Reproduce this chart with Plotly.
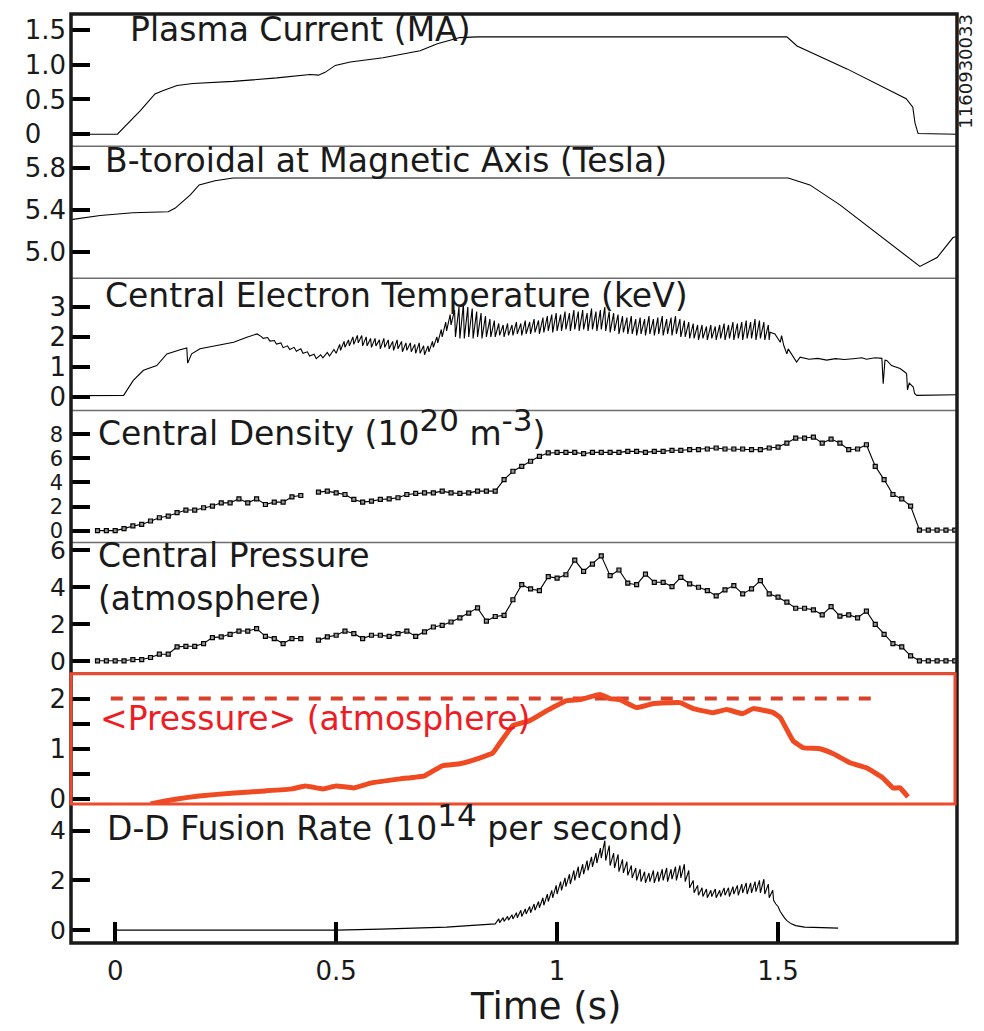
import plotly.graph_objects as go

FONT = "DejaVu Sans"

# ---------------- data ----------------
# Plasma current (MA)
ip_t = [-0.10, 0.005, 0.057, 0.090, 0.109, 0.140, 0.176, 0.267, 0.366, 0.441, 0.460, 0.475, 0.498,
        0.532, 0.606, 0.690, 0.729, 0.780, 0.820, 1.000, 1.200, 1.400, 1.520, 1.543, 1.656, 1.790,
        1.805, 1.810, 1.817, 1.905]
ip_v = [0.00, 0.00, 0.34, 0.58, 0.63, 0.70, 0.73, 0.76, 0.81, 0.86, 0.85, 0.89, 0.99,
        1.04, 1.10, 1.20, 1.30, 1.39, 1.40, 1.40, 1.40, 1.40, 1.40, 1.27, 0.94, 0.51,
        0.39, 0.16, 0.01, 0.00]

# B-toroidal at magnetic axis (T)
bt_t = [-0.10, -0.034, 0.040, 0.120, 0.136, 0.170, 0.190, 0.226, 0.267, 0.500, 1.000, 1.523,
        1.572, 1.640, 1.821, 1.860, 1.896, 1.905]
bt_v = [5.31, 5.35, 5.375, 5.385, 5.42, 5.545, 5.64, 5.68, 5.706, 5.706, 5.706, 5.706,
        5.64, 5.45, 4.866, 4.95, 5.14, 5.15]

# Central electron temperature (keV): start, sawtooth teeth, end
te_t = [-0.10, 0.019, 0.041, 0.064, 0.094, 0.117, 0.147, 0.162, 0.164, 0.173, 0.192, 0.230,
        0.268, 0.298, 0.321, 0.330, 0.335, 0.345, 0.350, 0.360, 0.365, 0.375, 0.380, 0.390,
        0.395, 0.405, 0.410, 0.420, 0.425, 0.435, 0.440, 0.450, 0.455, 0.465, 0.470, 0.480,
        0.485, 0.495]
te_v = [0.03, 0.04, 0.54, 0.88, 1.04, 1.43, 1.57, 1.63, 1.12, 1.43, 1.60, 1.71,
        1.82, 1.99, 2.10, 2.02, 1.95, 1.98, 1.86, 1.88, 1.76, 1.80, 1.64, 1.70,
        1.58, 1.65, 1.52, 1.60, 1.45, 1.50, 1.36, 1.42, 1.27, 1.40, 1.30, 1.48,
        1.36, 1.58]
te_tooth_t = [0.50, 0.51, 0.52, 0.53, 0.54, 0.55, 0.56, 0.57, 0.58, 0.59,
              0.60, 0.61, 0.62, 0.63, 0.64, 0.65, 0.66, 0.67, 0.68, 0.69,
              0.70, 0.71, 0.72, 0.73, 0.74, 0.75,
              0.76, 0.77, 0.78, 0.79, 0.80, 0.81, 0.82, 0.83, 0.84, 0.85,
              0.86, 0.87, 0.88, 0.89, 0.90, 0.91, 0.92, 0.93, 0.94, 0.95,
              0.96, 0.97, 0.98, 0.99, 1.00, 1.01, 1.02, 1.03, 1.04, 1.05,
              1.06, 1.07, 1.08, 1.09, 1.10, 1.11, 1.12, 1.13, 1.14, 1.15,
              1.16, 1.17, 1.18, 1.19, 1.20, 1.21, 1.22, 1.23, 1.24, 1.25,
              1.26, 1.27, 1.28, 1.29, 1.30, 1.31, 1.32, 1.33, 1.34, 1.35,
              1.36, 1.37, 1.38, 1.39, 1.40, 1.41, 1.42, 1.43, 1.44, 1.45,
              1.46, 1.47]
te_tooth_lo = [1.45, 1.55, 1.65, 1.70, 1.75, 1.80, 1.70, 1.70, 1.65, 1.70,
               1.60, 1.65, 1.60, 1.55, 1.60, 1.50, 1.55, 1.50, 1.45, 1.45,
               1.40, 1.50, 1.65, 1.80, 2.00, 2.20,
               2.40, 2.00, 1.95, 1.95, 2.00, 1.95, 2.00, 1.95, 2.00, 2.00,
               2.00, 2.05, 2.00, 2.05, 2.05, 2.10, 2.05, 2.10, 2.10, 2.15,
               2.10, 2.15, 2.20, 2.15, 2.20, 2.20, 2.25, 2.20, 2.25, 2.20,
               2.25, 2.20, 2.25, 2.20, 2.25, 2.20, 2.15, 2.20, 2.10, 2.15,
               2.10, 2.10, 2.05, 2.10, 2.05, 2.10, 2.05, 2.10, 2.05, 2.10,
               2.05, 2.10, 2.00, 2.00, 1.95, 1.95, 1.90, 1.95, 1.90, 1.95,
               1.90, 1.95, 1.90, 1.95, 1.90, 1.95, 1.90, 1.95, 1.95, 1.90,
               1.95, 1.90]
te_tooth_hi = [1.75, 1.85, 1.90, 2.00, 2.05, 2.05, 2.00, 1.95, 1.95, 1.90,
               1.95, 1.90, 1.85, 1.90, 1.85, 1.80, 1.80, 1.75, 1.80, 1.70,
               1.70, 1.85, 2.00, 2.25, 2.50, 2.75,
               2.90, 3.00, 3.10, 3.00, 2.95, 2.85, 2.80, 2.70, 2.60, 2.55,
               2.45, 2.40, 2.45, 2.40, 2.50, 2.45, 2.55, 2.50, 2.60, 2.55,
               2.65, 2.70, 2.75, 2.80, 2.75, 2.85, 2.80, 2.90, 2.85, 2.90,
               2.80, 2.95, 2.85, 2.90, 3.00, 2.85, 2.80, 2.75, 2.70, 2.65,
               2.70, 2.60, 2.65, 2.60, 2.70, 2.60, 2.65, 2.70, 2.60, 2.65,
               2.70, 2.60, 2.55, 2.50, 2.45, 2.40, 2.40, 2.35, 2.40, 2.35,
               2.40, 2.45, 2.40, 2.50, 2.45, 2.50, 2.55, 2.50, 2.60, 2.55,
               2.50, 2.40]
te_end_t = [1.480, 1.482, 1.493, 1.505, 1.508, 1.513, 1.520, 1.523, 1.535, 1.542, 1.550,
            1.570, 1.590, 1.610, 1.630, 1.650, 1.670, 1.690, 1.700, 1.720, 1.735, 1.738,
            1.742, 1.746, 1.757, 1.768, 1.776, 1.789, 1.791, 1.793, 1.797, 1.806, 1.809,
            1.814, 1.850, 1.880, 1.905]
te_end_v = [1.90, 2.16, 2.10, 1.82, 2.04, 1.71, 1.43, 1.60, 1.32, 1.16, 1.32,
            1.25, 1.28, 1.22, 1.27, 1.24, 1.27, 1.30, 1.25, 1.30, 1.28, 0.43,
            1.22, 1.21, 1.04, 0.99, 0.94, 0.80, 0.76, 0.22, 0.45, 0.32, 0.10,
            0.04, 0.05, 0.04, 0.06]

# Central density (1e20 m^-3) and central pressure (atm), sampled every 20 ms
prof_t = [-0.04, -0.02, 0.00, 0.02, 0.04, 0.06, 0.08, 0.10, 0.12, 0.14,
          0.16, 0.18, 0.20, 0.22, 0.24, 0.26, 0.28, 0.30, 0.32, 0.34,
          0.36, 0.38, 0.40, 0.42, 0.44, 0.46, 0.48, 0.50, 0.52, 0.54,
          0.56, 0.58, 0.60, 0.62, 0.64, 0.66, 0.68, 0.70, 0.72, 0.74,
          0.76, 0.78, 0.80, 0.82, 0.84, 0.86, 0.88, 0.90, 0.92, 0.94,
          0.96, 0.98, 1.00, 1.02, 1.04, 1.06, 1.08, 1.10, 1.12, 1.14,
          1.16, 1.18, 1.20, 1.22, 1.24, 1.26, 1.28, 1.30, 1.32, 1.34,
          1.36, 1.38, 1.40, 1.42, 1.44, 1.46, 1.48, 1.50, 1.52, 1.54,
          1.56, 1.58, 1.60, 1.62, 1.64, 1.66, 1.68, 1.70, 1.72, 1.74,
          1.76, 1.78, 1.80, 1.82, 1.84, 1.86, 1.88, 1.90]
ne_v = [0.00, 0.00, 0.00, 0.17, 0.39, 0.52, 0.80, 1.07, 1.21, 1.49,
        1.71, 1.71, 1.90, 2.04, 2.31, 2.31, 2.64, 2.31, 2.64, 2.17,
        2.37, 2.37, 2.81, 2.92, None, 3.20, 3.28, 3.14, 3.00, 2.59,
        2.37, 2.45, 2.59, 2.64, 2.73, 3.00, 3.09, 3.14, 3.14, 3.28,
        3.14, 3.09, 3.14, 3.28, 3.28, 3.28, 4.24, 4.93, 5.34, 5.76,
        6.17, 6.45, 6.50, 6.50, 6.50, 6.39, 6.50, 6.50, 6.50, 6.50,
        6.58, 6.58, 6.50, 6.58, 6.58, 6.67, 6.67, 6.72, 6.72, 6.78,
        6.86, 6.78, 6.78, 6.78, 6.72, 6.72, 6.86, 6.94, 7.27, 7.69,
        7.69, 7.77, 7.27, 7.60, 7.27, 6.72, 6.78, 7.13, 5.34, 4.24,
        3.00, 2.64, 2.04, 0.05, 0.05, 0.05, 0.05, 0.05]
p0_v = [0.00, 0.00, 0.00, 0.00, 0.07, 0.07, 0.18, 0.36, 0.36, 0.76,
        0.79, 0.79, 0.94, 1.26, 1.30, 1.44, 1.62, 1.62, 1.75, 1.33,
        1.21, 0.94, 1.21, 1.21, None, 1.12, 1.30, 1.39, 1.62, 1.48,
        1.21, 1.39, 1.39, 1.33, 1.48, 1.62, 1.33, 1.57, 1.84, 1.93,
        2.11, 2.34, 2.59, 2.88, 2.16, 2.41, 2.47, 3.32, 4.14, 3.91,
        3.82, 4.58, 4.50, 4.68, 5.48, 4.86, 5.26, 5.71, 4.63, 4.94,
        4.22, 4.14, 4.72, 4.27, 4.27, 4.04, 4.54, 4.18, 4.00, 3.82,
        3.53, 3.86, 4.09, 3.64, 3.91, 4.36, 3.64, 3.46, 3.19, 2.86,
        2.86, 2.77, 2.50, 2.95, 2.43, 2.50, 2.34, 2.70, 1.98, 1.44,
        0.94, 0.76, 0.27, 0.00, 0.00, 0.00, 0.00, 0.00]

# Volume-averaged pressure (atm) and the 2-atm reference level
pavg_t = [0.080, 0.113, 0.140, 0.190, 0.270, 0.340, 0.400, 0.430, 0.470, 0.500, 0.540, 0.580,
          0.645, 0.700, 0.740, 0.780, 0.826, 0.855, 0.871, 0.900, 0.938, 0.977, 1.022, 1.052,
          1.097, 1.120, 1.142, 1.180, 1.218, 1.278, 1.308, 1.353, 1.384, 1.420, 1.444, 1.489,
          1.505, 1.534, 1.557, 1.595, 1.625, 1.663, 1.700, 1.737, 1.760, 1.776, 1.794]
pavg_v = [-0.10, -0.04, 0.00, 0.06, 0.12, 0.16, 0.20, 0.26, 0.20, 0.26, 0.22, 0.32,
          0.40, 0.46, 0.66, 0.70, 0.82, 0.92, 1.12, 1.46, 1.56, 1.76, 1.96, 1.98,
          2.08, 2.00, 1.98, 1.82, 1.90, 1.92, 1.80, 1.72, 1.78, 1.70, 1.80, 1.72,
          1.62, 1.16, 1.02, 1.00, 0.90, 0.72, 0.62, 0.42, 0.22, 0.22, 0.04]
pref_t = [-0.01, 1.72]
pref_v = [2.0, 2.0]

# D-D fusion rate (1e14 /s): start, sawtooth teeth, end
fus_t = [0.00, 0.50, 0.60, 0.70, 0.75, 0.80, 0.85]
fus_v = [0.00, 0.00, 0.04, 0.08, 0.12, 0.18, 0.25]
fus_tooth_t = [0.86, 0.87, 0.88, 0.89, 0.90, 0.91, 0.92, 0.93, 0.94, 0.95,
               0.96, 0.97, 0.98, 0.99, 1.00, 1.01, 1.02, 1.03, 1.04, 1.05,
               1.06, 1.07, 1.08, 1.09, 1.10, 1.11, 1.12, 1.13, 1.14, 1.15,
               1.16, 1.17, 1.18, 1.19, 1.20, 1.21, 1.22, 1.23, 1.24, 1.25,
               1.26, 1.27, 1.28, 1.29, 1.30, 1.31, 1.32, 1.33, 1.34, 1.35,
               1.36, 1.37, 1.38, 1.39, 1.40, 1.41, 1.42, 1.43, 1.44, 1.45,
               1.46, 1.47]
fus_tooth_lo = [0.25, 0.30, 0.35, 0.40, 0.45, 0.50, 0.55, 0.65, 0.70, 0.80,
                0.90, 1.00, 1.15, 1.30, 1.45, 1.60, 1.75, 1.85, 2.00, 2.10,
                2.25, 2.40, 2.55, 2.70, 2.90, 2.80, 2.60, 2.50, 2.35, 2.30,
                2.20, 2.10, 2.00, 1.95, 1.90, 1.95, 1.90, 1.95, 2.00, 1.95,
                2.05, 2.00, 2.10, 1.95, 1.70, 1.50, 1.40, 1.35, 1.30, 1.35,
                1.30, 1.35, 1.40, 1.35, 1.45, 1.40, 1.50, 1.45, 1.50, 1.55,
                1.50, 1.45]
fus_tooth_hi = [0.45, 0.50, 0.55, 0.62, 0.70, 0.80, 0.85, 0.95, 1.05, 1.15,
                1.30, 1.45, 1.60, 1.80, 1.95, 2.10, 2.25, 2.40, 2.55, 2.65,
                2.80, 2.95, 3.10, 3.30, 3.60, 3.40, 3.10, 3.05, 2.85, 2.75,
                2.60, 2.50, 2.45, 2.35, 2.30, 2.40, 2.35, 2.45, 2.50, 2.45,
                2.55, 2.60, 2.65, 2.40, 2.00, 1.80, 1.70, 1.65, 1.60, 1.65,
                1.60, 1.70, 1.70, 1.75, 1.80, 1.85, 1.90, 1.90, 1.95, 2.00,
                2.05, 1.85]
fus_end_t = [1.480, 1.488, 1.490, 1.495, 1.500, 1.505, 1.510, 1.515, 1.520, 1.530, 1.540,
             1.560, 1.600, 1.636]
fus_end_v = [1.30, 1.60, 1.20, 1.05, 0.95, 0.75, 0.60, 0.48, 0.38, 0.25, 0.18,
             0.12, 0.10, 0.08]

x_tickvals = [0, 0.5, 1, 1.5]
x_ticktext = ["0", "0.5", "1", "1.5"]

# ---------------- build series ----------------
def with_teeth(t0, v0, tt, lo, hi, t1, v1, ramp=0.008):
    xs, ys = list(t0), list(v0)
    for t, a, b in zip(tt, lo, hi):
        xs += [t, t + ramp]
        ys += [a, b]
    return xs + list(t1), ys + list(v1)

te_x, te_y = with_teeth(te_t, te_v, te_tooth_t, te_tooth_lo, te_tooth_hi, te_end_t, te_end_v)
fu_x, fu_y = with_teeth(fus_t, fus_v, fus_tooth_t, fus_tooth_lo, fus_tooth_hi, fus_end_t, fus_end_v)

# ---------------- geometry ----------------
W, H = 984, 1031
L, R, T, B = 71, 957, 8, 943


def px(xp):
    return (xp - L) / (R - L)


def py(yp):
    return (B - yp) / (B - T)


bounds = [8, 141, 274, 407, 540, 672, 803, 943]
yranges = [[-0.171, 1.729], [4.753, 6.008], [-0.467, 3.967], [-0.99, 9.98],
           [-0.703, 6.43], [-0.099, 2.495], [-0.52, 5.08]]
ytickvals = [[0, 0.5, 1.0, 1.5], [5.0, 5.4, 5.8], [0, 1, 2, 3], [0, 2, 4, 6, 8],
             [0, 2, 4, 6], [0, 1, 2], [0, 2, 4]]
yticktext = [["0\u2008\u2007", "0.5", "1.0", "1.5"], ["5.0", "5.4", "5.8"],
             ["0", "1", "2", "3"], ["0", "2", "4", "6", "8"], ["0", "2", "4", "6"],
             ["0", "1", "2"], ["0", "2", "4"]]
ytickfont = [26, 26, 26, 21, 25, 26, 25]

fig = go.Figure()
blk = dict(color="black", width=1.1)

fig.add_trace(go.Scatter(x=ip_t, y=ip_v, mode="lines", line=blk, xaxis="x", yaxis="y"))
fig.add_trace(go.Scatter(x=bt_t, y=bt_v, mode="lines", line=blk, xaxis="x2", yaxis="y2"))
fig.add_trace(go.Scatter(x=te_x, y=te_y, mode="lines", line=blk, xaxis="x3", yaxis="y3"))
mk = dict(symbol="square", size=4, color="#9a9a9a", line=dict(color="black", width=1.2))
fig.add_trace(go.Scatter(x=prof_t, y=ne_v, mode="lines+markers", line=blk, marker=mk,
                         connectgaps=False, xaxis="x4", yaxis="y4"))
fig.add_trace(go.Scatter(x=prof_t, y=p0_v, mode="lines+markers", line=blk, marker=mk,
                         connectgaps=False, xaxis="x5", yaxis="y5"))
fig.add_trace(go.Scatter(x=pref_t, y=pref_v, mode="lines",
                         line=dict(color="#d8402a", width=4, dash="12px,10px"),
                         xaxis="x6", yaxis="y6"))
fig.add_trace(go.Scatter(x=pavg_t, y=pavg_v, mode="lines",
                         line=dict(color="#f04a23", width=5, shape="spline", smoothing=0.3),
                         xaxis="x6", yaxis="y6"))
fig.add_trace(go.Scatter(x=fu_x, y=fu_y, mode="lines", line=blk, xaxis="x7", yaxis="y7"))

layout = dict(
    width=W, height=H,
    margin=dict(l=L, r=W - R, t=T, b=H - B),
    paper_bgcolor="white", plot_bgcolor="white",
    showlegend=False,
    font=dict(family=FONT, color="#1a1a1a"),
)

for i in range(7):
    sfx = "" if i == 0 else str(i + 1)
    bottom = (i == 6)
    layout["xaxis" + sfx] = dict(
        domain=[0, 1], anchor="y" + sfx, range=[-0.1, 1.905],
        showgrid=False, zeroline=False, showline=False,
        ticks="inside" if bottom else "", ticklen=21, tickwidth=4, tickcolor="black",
        tickvals=x_tickvals, ticktext=x_ticktext,
        showticklabels=bottom, tickfont=dict(size=26, family=FONT, color="#1a1a1a"),
        ticklabelstandoff=10,
    )
    layout["yaxis" + sfx] = dict(
        domain=[py(bounds[i + 1]), py(bounds[i])], anchor="x" + sfx, range=yranges[i],
        showgrid=False, zeroline=False, showline=False,
        ticks="inside", ticklen=19, tickwidth=4, tickcolor="black",
        tickvals=ytickvals[i], ticktext=yticktext[i],
        tickfont=dict(size=ytickfont[i], family=FONT, color="#1a1a1a"),
        ticklabelstandoff=4 if ytickfont[i] > 22 else 7,
    )
# unlabelled half-atmosphere ticks in the <Pressure> panel
layout["yaxis6"]["minor"] = dict(tickmode="array", tickvals=[0.5, 1.5], ticks="inside",
                                 ticklen=19, tickwidth=4, tickcolor="black", showgrid=False)

shapes = []
for yp in [141, 274, 407, 540, 671]:
    shapes.append(dict(type="line", xref="paper", yref="paper", x0=0, x1=1, y0=py(yp), y1=py(yp),
                       line=dict(color="#6e6e6e", width=1.5)))
shapes.append(dict(type="rect", xref="paper", yref="paper", x0=0, x1=1, y0=0, y1=1,
                   line=dict(color="#1a1a1a", width=3.5)))
shapes.append(dict(type="rect", xref="paper", yref="paper", x0=0, x1=px(955), y0=py(803), y1=py(672),
                   line=dict(color="#ee4a2f", width=3)))
layout["shapes"] = shapes


def ann(text, xl, yc, size=33, color="#1a1a1a", **kw):
    d = dict(text=text, x=px(xl), y=py(yc), xref="paper", yref="paper", xanchor="left",
             yanchor="middle", showarrow=False, align="left",
             font=dict(size=size, family=FONT, color=color))
    d.update(kw)
    return d


sup = "<sup><span style='font-size:31px'>%s</span></sup>"
layout["annotations"] = [
    ann("Plasma Current (MA)", 128, 24),
    ann("B-toroidal at Magnetic Axis (Tesla)", 103, 155),
    ann("Central Electron Temperature (keV)", 103, 291),
    ann("Central Density (10" + sup % "20" + " m" + sup % "-3" + ")", 96, 424),
    ann("Central Pressure<br>(atmosphere)", 96, 575),
    ann("&lt;Pressure&gt; (atmosphere)", 98, 717, color="#ee1c24"),
    ann("D-D Fusion Rate (10" + sup % "14" + " per second)", 105, 822),
    dict(text="Time (s)", x=px(545), y=py(1007), xref="paper", yref="paper",
         xanchor="center", yanchor="middle", showarrow=False,
         font=dict(size=37, family=FONT, color="#1a1a1a")),
    dict(text="1160930033", x=px(966), y=py(66), xref="paper", yref="paper",
         xanchor="center", yanchor="middle", showarrow=False, textangle=-90,
         font=dict(size=18, family=FONT, color="#1a1a1a")),
]

fig.update_layout(**layout)
fig.write_html("out.html", config={"displayModeBar": False},
               post_script="document.body.style.margin='0px'; document.body.style.overflow='hidden';")
